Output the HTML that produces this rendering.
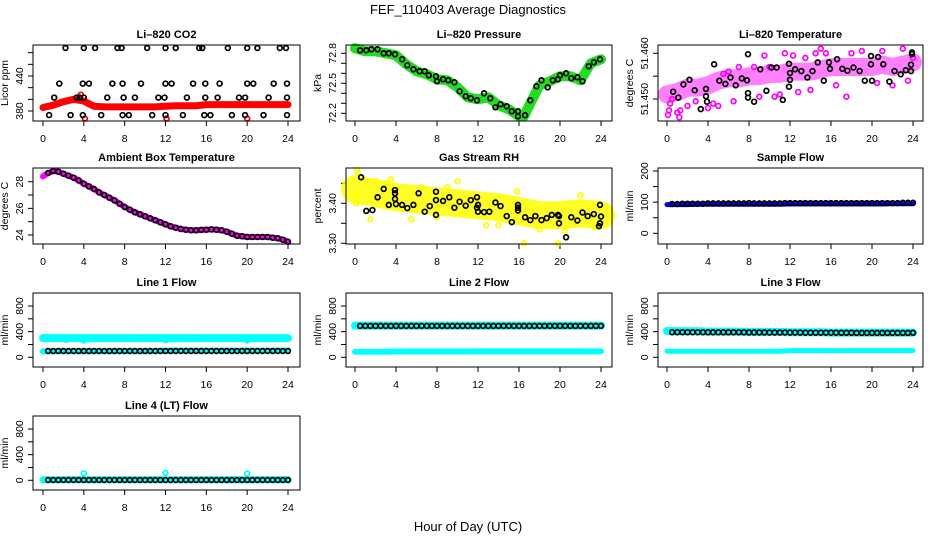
<!DOCTYPE html>
<html><head><meta charset="utf-8"><style>
html,body{margin:0;padding:0;background:#fff;}
svg{display:block;font-family:"Liberation Sans",Arial,sans-serif;}
</style></head><body>
<svg id="chart" width="936" height="540" viewBox="0 0 936 540" xmlns="http://www.w3.org/2000/svg">
<rect width="936" height="540" fill="#fff"/>
<text x="468" y="14" text-anchor="middle" font-size="13">FEF_110403  Average Diagnostics</text>
<text x="468" y="531" text-anchor="middle" font-size="13">Hour of Day (UTC)</text>
</svg>
<script>
// ---------- data ----------
const xTicks=[0,4,8,12,16,20,24];
const HH=[0.5,1,1.5,2,2.5,3,3.5,4,4.5,5,5.5,6,6.5,7,7.5,8,8.5,9,9.5,10,10.5,11,11.5,12,12.5,13,13.5,14,14.5,15,15.5,16,16.5,17,17.5,18,18.5,19,19.5,20,20.5,21,21.5,22,22.5,23,23.5,24];
const H25=[0,1,2,3,4,5,6,7,8,9,10,11,12,13,14,15,16,17,18,19,20,21,22,23,24];
// CO2
const co2BlackH=[2.2,4,5.1,7.3,7.7,10.2,12,13,15.3,15.6,18.1,20,21,23.2,23.8, 1.6,3.9,4.5,6.8,7.8,9.6,12,12.6,14.7,15.9,17.3,20,20.6,22.6,23.9, 1.1,3.3,3.6,4,6.3,7.9,9,11.3,11.9,14.1,15.9,17.1,19.2,19.8,22.1,23.9, 0.6,2.7,3.9,5.7,7.8,8.4,10.7,12,13.7,15.8,16.4,18.5,19.8,21.6,23.9];
const co2BlackV=[488,488,488,488,488,488,488,488,488,488,488,488,488,488,488, 427,427,427,427,427,427,427,427,427,427,427,427,427,427,427, 403,403,403,403,403,403,403,403,403,403,403,403,403,403,403,403, 373,373,373,373,373,373,373,373,373,373,373,373,373,373,373];
const co2Red=[386,390,396,400,397,388,387,387,387,387,387,387,388,389,389,389,391,391,391,391,391,391,391,391,391];
const co2RedOutH=[4.1,12.1,20,3.7];
const co2RedOutV=[367,367,367,408];
// Pressure
const presGreenH=[0,1,2,3,4,5,6,7,8,9,10,11,12,13,14,15,16,16.5,17,18,19,20,21,22,23,24];
const presGreenV=[72.85,72.82,72.82,72.80,72.78,72.69,72.62,72.59,72.54,72.53,72.46,72.36,72.34,72.36,72.28,72.24,72.17,72.17,72.28,72.48,72.52,72.57,72.57,72.53,72.70,72.74];
const presBlackH=[0.5,1.1,1.6,2.2,2.8,3.3,3.9,4.6,5.1,5.7,6.3,6.8,7.2,7.9,8.0,8.6,9.1,9.7,10.2,10.8,11.3,11.9,12.6,13.2,13.7,14.2,14.8,15.3,15.9,15.9,16.6,17.1,17.7,18.2,18.8,19.3,19.8,20.0,20.6,21.1,21.7,22.2,22.8,23.3,23.9];
const presBlackV=[72.83,72.83,72.84,72.84,72.80,72.80,72.79,72.74,72.68,72.64,72.62,72.62,72.58,72.57,72.52,72.54,72.53,72.51,72.42,72.37,72.35,72.33,72.40,72.35,72.26,72.29,72.27,72.22,72.22,72.17,72.18,72.33,72.47,72.53,72.46,72.53,72.54,72.58,72.60,72.55,72.56,72.52,72.67,72.71,72.74];
// Li-820 temperature
const tempBand=[51.4510,51.4515,51.4525,51.4525,51.4530,51.4540,51.4545,51.4545,51.4550,51.4550,51.4555,51.4555,51.4560,51.4560,51.4560,51.4565,51.4570,51.4570,51.4570,51.4570,51.4570,51.4575,51.4570,51.4575,51.4580];
const tempMagH=[0.1,0.2,0.3,0.5,1.0,1.2,1.3,2.0,2.8,4.0,4.5,5.0,5.5,6.0,6.5,7.0,8.5,9.0,9.5,10.0,10.5,11.0,11.5,12.3,12.8,13.5,14.0,14.5,15.0,15.5,16.5,17.5,18.0,19.0,20.5,21.0,22.0,23.0,23.5,24.0];
const tempMagV=[51.4465,51.4475,51.4490,51.4500,51.4470,51.4460,51.4475,51.4485,51.4495,51.4480,51.4490,51.4485,51.4555,51.4560,51.4495,51.4570,51.4570,51.4505,51.4595,51.4570,51.4505,51.4510,51.4600,51.4595,51.4515,51.4590,51.4520,51.4600,51.4610,51.4600,51.4530,51.4505,51.4600,51.4605,51.4535,51.4605,51.4530,51.4610,51.4540,51.4590];
const tempBlackH=[0.6,1.1,1.6,2.2,2.7,3.3,3.8,3.8,3.9,4.6,5.1,5.7,6.2,6.7,7.3,7.8,7.9,7.9,7.9,8.5,9.1,9.7,10.2,10.7,11.3,11.9,12.0,12.0,11.9,12.5,13.1,13.7,14.2,14.7,15.3,15.8,15.9,16.6,17.1,17.6,18.2,18.8,19.3,19.9,19.9,20.0,20.6,21.1,21.7,22.2,22.8,23.3,23.8,23.8,23.9,23.9];
const tempBlackV=[51.4516,51.4503,51.4532,51.4542,51.4519,51.4478,51.4522,51.4506,51.4494,51.4576,51.4540,51.4533,51.4547,51.4530,51.4545,51.4541,51.4513,51.4503,51.4598,51.4494,51.4565,51.4518,51.4569,51.4569,51.4498,51.4577,51.4557,51.4542,51.4527,51.4565,51.4561,51.4547,51.4561,51.4580,51.4540,51.4580,51.4566,51.4587,51.4566,51.4562,51.4569,51.4561,51.4540,51.4576,51.4594,51.4540,51.4592,51.4576,51.4538,51.4561,51.4554,51.4563,51.4561,51.4575,51.4598,51.4602];
// Ambient box temperature (half-hourly, 0..24)
const ambH=[0,0.5,1,1.5,2,2.5,3,3.5,4,4.5,5,5.5,6,6.5,7,7.5,8,8.5,9,9.5,10,10.5,11,11.5,12,12.5,13,13.5,14,14.5,15,15.5,16,16.5,17,17.5,18,18.5,19,19.5,20,20.5,21,21.5,22,22.5,23,23.5,24];
const ambV=[28.4,28.65,28.8,28.75,28.6,28.45,28.3,28.1,27.85,27.65,27.45,27.2,27.0,26.8,26.6,26.35,26.1,25.9,25.7,25.55,25.4,25.25,25.1,24.95,24.8,24.65,24.55,24.45,24.4,24.35,24.35,24.38,24.4,24.42,24.4,24.35,24.25,24.1,23.95,23.9,23.85,23.85,23.85,23.85,23.85,23.8,23.75,23.65,23.5];
// Gas stream RH
const rhBandH=[0,2,4,6,8,10,12,14,16,18,20,22,24];
const rhBandV=[3.435,3.425,3.415,3.41,3.405,3.40,3.395,3.39,3.38,3.37,3.37,3.375,3.37];
const rhYelH=[0.2,0.1,0.1,0.3,1.5,3.5,3.1,10.0,12.8,16.5,19.8,18.0,20.5,22.0,15.8,5.5,8.0,14.0,23.5,2.0,6.5,9.0,17.0,21.5];
const rhYelV=[3.483,3.40,3.422,3.475,3.36,3.46,3.45,3.455,3.345,3.30,3.30,3.335,3.33,3.42,3.43,3.36,3.365,3.345,3.34,3.455,3.44,3.44,3.36,3.35];
const rhBlackH=[0.6,1.1,1.7,2.2,2.8,3.3,3.9,3.9,3.9,4.0,4.6,5.1,5.7,6.2,6.8,7.3,7.9,7.9,7.9,8.6,9.2,9.7,10.2,10.8,11.3,11.9,11.9,12.0,12.0,12.6,13.1,13.7,14.2,14.8,15.3,15.9,15.9,15.9,16.6,17.1,17.6,18.2,18.7,19.2,19.8,19.9,19.9,20.6,21.1,21.7,22.2,22.7,23.3,23.9,24.0,23.9,23.8];
const rhBlackV=[3.465,3.381,3.383,3.415,3.436,3.396,3.433,3.425,3.411,3.398,3.396,3.388,3.396,3.425,3.379,3.393,3.429,3.408,3.371,3.406,3.415,3.389,3.404,3.394,3.408,3.415,3.389,3.396,3.379,3.378,3.379,3.402,3.393,3.368,3.353,3.396,3.389,3.382,3.365,3.358,3.368,3.358,3.363,3.371,3.371,3.368,3.350,3.315,3.365,3.357,3.377,3.368,3.373,3.396,3.367,3.350,3.343];
// Sample flow
const sampBlue=[92,92,92,93,93,93,93,93,93,93,93,93,94,94,94,94,94,94,94,94,94,94,95,95,95];
const sampBlack=[94,94,95,95,95,95,95,96,96,96,96,96,96,96,96,97,96,96,96,96,96,96,97,97,97,97,97,97,97,97,97,97,97,97,97,97,97,97,97,97,97,97,97,97,97,98,98,98];
// Line flows
const l1CyanHi=[300,300,300,300,300,300,300,300,300,300,300,300,300,300,300,300,300,300,300,300,300,300,300,300,300];
const l1CyanLo=[95,95,95,95,95,95,95,95,95,95,95,95,100,105,105,105,105,105,105,105,105,105,105,105,105];
const l1DipH=[2.3,4,12,20];
const l1DipV=[275,262,268,262];
const l1Black=[98,98,98,98,98,98,98,98,98,98,98,98,98,98,98,98,98,98,98,98,98,98,98,98,99,99,99,99,99,99,99,99,99,99,99,99,99,99,99,99,99,99,99,99,99,99,99,99];
const l2CyanHi=[495,495,495,495,495,495,495,495,495,495,495,495,495,495,495,495,495,495,495,495,495,495,495,495,495];
const l2CyanLo=[85,85,85,85,90,90,90,90,90,90,90,90,92,92,92,92,92,92,92,92,92,92,92,92,92];
const l2Black=[490,490,490,490,490,490,490,490,490,490,490,490,490,490,490,490,490,490,490,490,490,490,490,490,490,490,490,490,490,490,490,490,490,490,490,490,490,490,490,490,490,490,490,490,490,490,490,490];
const l3CyanHi=[410,405,405,405,400,400,400,400,395,395,395,395,390,390,390,390,385,385,385,385,385,385,385,385,385];
const l3CyanLo=[95,95,95,95,95,95,95,95,95,95,95,95,105,105,105,105,105,105,105,105,105,105,105,105,105];
const l3Black=[392,392,392,392,392,392,392,390,390,390,390,390,390,390,390,388,388,388,388,386,386,386,386,385,385,385,384,384,384,384,384,384,384,382,382,382,380,380,380,380,380,380,380,380,380,380,380,382];
const l4Cyan=[8,8,8,8,8,8,8,8,8,8,8,8,8,8,8,8,8,8,8,8,8,8,8,8,8];
const l4SpikeH=[4,12,20];
const l4SpikeV=[110,115,105];
const l4Black=[5,5,5,5,5,5,5,5,5,5,5,5,5,5,5,5,5,5,5,5,5,5,5,5,5,5,5,5,5,5,5,5,5,5,5,5,5,5,5,5,5,5,5,5,5,5,5,5];

// ---------- drawing ----------
const NS="http://www.w3.org/2000/svg";
const svg=document.getElementById('chart');
const cols=[{L:33,R:300,x0:43,x24:288},{L:346,R:612,x0:355,x24:601},{L:658,R:923,x0:667,x24:913}];
const rows=[{T:45,B:121},{T:168,B:244},{T:293,B:367},{T:416,B:490}];
function mk(tag,attrs,parent){const e=document.createElementNS(NS,tag);for(const k in attrs)e.setAttribute(k,attrs[k]);(parent||svg).appendChild(e);return e;}

function panel(name,c,r,title,ylab,v1,p1,v2,p2,ticks,labels,labelText){
  const C=cols[c],R=rows[r];
  const g=mk('g',{});
  
  
  const x=h=>C.x0+h*(C.x24-C.x0)/24;
  const y=v=>p1+(v-v1)*(p2-p1)/(v2-v1);
  const t=mk('text',{x:(C.L+C.R)/2,y:R.T-7,'text-anchor':'middle','font-size':11,'font-weight':'bold'},g);
  t.textContent=title;
  
  
  const yl=mk('text',{x:C.L-25,y:(R.T+R.B)/2,'text-anchor':'middle','font-size':10.5,transform:`rotate(-90 ${C.L-25} ${(R.T+R.B)/2})`},g);
  yl.textContent=ylab;
  
  
  xTicks.forEach(h=>{
    mk('line',{x1:x(h),x2:x(h),y1:R.B,y2:R.B+5,stroke:'#000','stroke-width':1},g);
    const tl=mk('text',{x:x(h),y:R.B+21,'text-anchor':'middle','font-size':10.5},g);
    tl.textContent=h;
    
    
  });
  ticks.forEach(v=>{mk('line',{x1:C.L,x2:C.L-5,y1:y(v),y2:y(v),stroke:'#000','stroke-width':1},g);});
  labels.forEach((v,i)=>{
    const yy=y(v),xx=C.L-10;
    const tl=mk('text',{x:xx,y:yy,'text-anchor':'middle','font-size':10.5,transform:`rotate(-90 ${xx} ${yy})`},g);
    tl.textContent=labelText[i];
    
    
  });
  const plot=mk('g',{},g);
  
  
  const box=mk('rect',{x:C.L,y:R.T,width:C.R-C.L,height:R.B-R.T,fill:'none',stroke:'#000','stroke-width':1},g);
  
  
  return {x,y,plot,name};
}
function band(P,hs,vs,color,w,op,label){
  const d=hs.map((h,i)=>(i?'L':'M')+P.x(h).toFixed(1)+','+P.y(vs[i]).toFixed(1)).join(' ');
  const p=mk('path',{d:d,fill:'none',stroke:color,'stroke-width':w,'stroke-linejoin':'round','stroke-linecap':'round',opacity:op},P.plot);
  
  
}
function pts(P,hs,vs,color,label,r,sw){
  hs.forEach((h,i)=>{
    const c=mk('circle',{cx:P.x(h).toFixed(1),cy:P.y(vs[i]).toFixed(1),r:r||2.4,fill:'none',stroke:color,'stroke-width':sw||1.7},P.plot);
    
    
  });
}

// Li-820 CO2
let P=panel('co2',0,0,'Li\u2013820 CO2','Licor ppm',380,111,440,76,[380,400,420,440,460,480],[380,440],['380','440']);
band(P,H25,co2Red,'#ff0000',7,1,'red-series');
pts(P,co2RedOutH,co2RedOutV,'#ff0000','red-point');
pts(P,co2BlackH,co2BlackV,'#000','black-point');
// Pressure
P=panel('pressure',1,0,'Li\u2013820 Pressure','kPa',72.8,53.3,72.2,113.3,[72.2,72.3,72.4,72.5,72.6,72.7,72.8],[72.8,72.5,72.2],['72.8','72.5','72.2']);
band(P,presGreenH,presGreenV,'#22dd22',10,1,'green-series');
pts(P,presBlackH,presBlackV,'#000','black-point');
// Li-820 temperature
P=panel('li820-temp',2,0,'Li\u2013820 Temperature','degrees C',51.460,53.3,51.450,99,[51.450,51.455,51.460],[51.460,51.450],['51.460','51.450']);
band(P,H25,tempBand,'#ff00ff',18,0.5,'magenta-band');
pts(P,tempMagH,tempMagV,'#ff00ff','magenta-point');
pts(P,tempBlackH,tempBlackV,'#000','black-point');
// Ambient box temperature
P=panel('ambient-temp',0,1,'Ambient Box Temperature','degrees C',28,181.7,24,235,[24,25,26,27,28],[24,26,28],['24','26','28']);
band(P,ambH,ambV,'#ff00ff',6,1,'magenta-series');
pts(P,ambH.slice(1),ambV.slice(1),'#000','black-point');
// Gas stream RH
P=panel('gas-rh',1,1,'Gas Stream RH','percent',3.40,203.3,3.30,243.3,[3.30,3.35,3.40,3.45],[3.30,3.40],['3.30','3.40']);
band(P,rhBandH,rhBandV,'#ffff00',28,0.85,'yellow-band');
pts(P,rhYelH,rhYelV,'#ffff00','yellow-point');
pts(P,rhBlackH,rhBlackV,'#000','black-point');
// Sample flow
P=panel('sample-flow',2,1,'Sample Flow','ml/min',200,171,0,233.3,[0,50,100,150,200],[0,100,200],['0','100','200']);
band(P,H25,sampBlue,'#0000ff',5,1,'blue-series');
pts(P,HH,sampBlack,'#000','black-point');
// Line 1
const lt=[0,200,400,600,800],ll=[0,400,800],llt=['0','400','800'];
P=panel('line1-flow',0,2,'Line 1 Flow','ml/min',0,357.3,800,306,lt,ll,llt);
band(P,H25,l1CyanHi,'#00ffff',8,1,'cyan-high');
band(P,H25,l1CyanLo,'#00ffff',6,1,'cyan-low');
pts(P,l1DipH,l1DipV,'#00ffff','cyan-point');
pts(P,HH,l1Black,'#000','black-point');
// Line 2
P=panel('line2-flow',1,2,'Line 2 Flow','ml/min',0,357.3,800,306,lt,ll,llt);
band(P,H25,l2CyanHi,'#00ffff',8,1,'cyan-high');
band(P,H25,l2CyanLo,'#00ffff',6,1,'cyan-low');
pts(P,HH,l2Black,'#000','black-point');
// Line 3
P=panel('line3-flow',2,2,'Line 3 Flow','ml/min',0,357.3,800,306,lt,ll,llt);
band(P,H25,l3CyanHi,'#00ffff',8,1,'cyan-high');
band(P,H25,l3CyanLo,'#00ffff',5,1,'cyan-low');
pts(P,HH,l3Black,'#000','black-point');
// Line 4
P=panel('line4-flow',0,3,'Line 4 (LT) Flow','ml/min',0,480.3,800,429,lt,ll,llt);
band(P,H25,l4Cyan,'#00ffff',7,1,'cyan-series');
pts(P,l4SpikeH,l4SpikeV,'#00ffff','cyan-spike');
pts(P,HH,l4Black,'#000','black-point');
</script>
</body></html>
